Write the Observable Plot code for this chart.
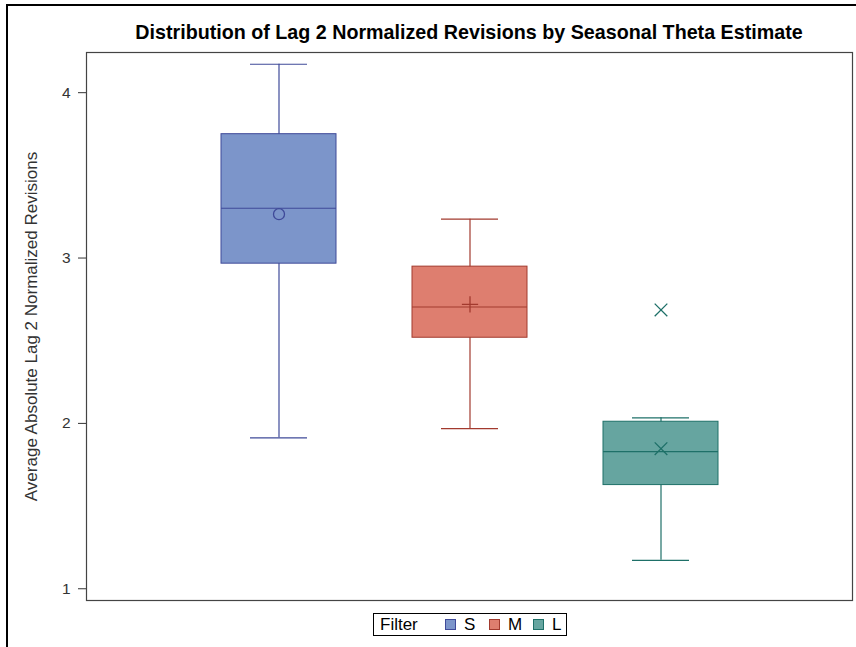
<!DOCTYPE html>
<html><head><meta charset="utf-8">
<script src="https://cdn.jsdelivr.net/npm/d3@7"></script>
<script src="https://cdn.jsdelivr.net/npm/@observablehq/plot@0.6"></script>
<style>
html,body{margin:0;padding:0;background:#fff;overflow:hidden;}
#wrap{position:relative;width:856px;height:647px;overflow:hidden;font-family:"Liberation Sans",Arial,sans-serif;background:#fff;}
#border{position:absolute;left:6px;top:4px;width:900px;height:700px;border:2px solid #000;box-sizing:border-box;}
#chart{position:absolute;left:0;top:0;}
#title{position:absolute;left:86px;width:766px;top:20px;text-align:center;font-weight:bold;font-size:19.7px;line-height:24px;color:#000;white-space:nowrap;}
#legend{position:absolute;left:373px;top:613px;width:192px;height:21px;border:1px solid #000;box-sizing:content-box;font-size:17px;color:#000;}
#legend span{position:absolute;top:1px;line-height:20px;}
#legend i{position:absolute;top:5px;width:9px;height:9px;border:1px solid;}
</style>
</head><body>
<div id="wrap">
  <div id="border"></div>
  <div id="chart"></div>
  <div id="title"></div>
  <div id="legend"></div>
</div>
<script>
const titleText = "Distribution of Lag 2 Normalized Revisions by Seasonal Theta Estimate";
const yLabel = "Average Absolute Lag 2 Normalized Revisions";
const legendTitle = "Filter";
const groups = ["S", "M", "L"];
const whiskerLow  = [1.913, 1.968, 1.172];
const q1          = [2.966, 2.518, 1.627];
const median      = [3.301, 2.704, 1.829];
const mean        = [3.265, 2.720, 1.847];
const q3          = [3.749, 2.948, 2.010];
const whiskerHigh = [4.172, 3.235, 2.034];
const outlierGroup = ["L"];
const outlierValue = [2.686];
const yTicks = [1, 2, 3, 4];

const fills = {S: "#7C95CA", M: "#DE7E6F", L: "#66A5A0"};
const lines = {S: "#3F4A99", M: "#A23A2E", L: "#1E7068"};
const symbols = {S: "circle", M: "plus", L: "times"};
const symR = {S: 5.5, M: 5.3, L: 5.8};

const table = groups.map((g, i) => ({g, lo: whiskerLow[i], q1: q1[i], med: median[i], mean: mean[i], q3: q3[i], hi: whiskerHigh[i]}));
const outliers = outlierGroup.map((g, i) => ({g, v: outlierValue[i]}));

document.getElementById("title").textContent = titleText;

const meanMarks = groups.map(g => Plot.dot(table.filter(d => d.g === g), {
  x: "g", y: "mean", symbol: symbols[g], r: symR[g], stroke: lines[g], strokeWidth: 1.3, fill: "none"
}));
const outlierMarks = outlierGroup.map(g => Plot.dot(outliers.filter(d => d.g === g), {
  x: "g", y: "v", symbol: symbols[g], r: symR[g], stroke: lines[g], strokeWidth: 1.3, fill: "none"
}));

const chart = Plot.plot({
  width: 856, height: 647,
  marginLeft: 86, marginTop: 52, marginRight: 4, marginBottom: 47,
  style: {fontFamily: '"Liberation Sans", Arial, sans-serif', background: "transparent"},
  x: {domain: groups, paddingInner: 0.4, paddingOuter: 0.7, axis: null},
  y: {domain: [0.929, 4.243]},
  color: {type: "identity"},
  marks: [
    Plot.ruleX(table, {x: "g", y1: "lo", y2: "hi", stroke: d => lines[d.g], strokeWidth: 1.2}),
    Plot.tickY(table, {x: "g", y: "lo", stroke: d => lines[d.g], strokeWidth: 1.2, insetLeft: 29, insetRight: 29}),
    Plot.tickY(table, {x: "g", y: "hi", stroke: d => lines[d.g], strokeWidth: 1.2, insetLeft: 29, insetRight: 29}),
    Plot.barY(table, {x: "g", y1: "q1", y2: "q3", fill: d => fills[d.g], stroke: d => lines[d.g], strokeWidth: 1}),
    Plot.tickY(table, {x: "g", y: "med", stroke: d => lines[d.g], strokeWidth: 1.2}),
    ...meanMarks,
    ...outlierMarks,
    Plot.frame({stroke: "#444", strokeWidth: 1.2}),
    Plot.axisY({ticks: yTicks, tickFormat: d => String(d), tickSize: 8, tickPadding: 8, fontSize: 15.5, color: "#333", label: null}),
    Plot.axisY({ticks: [], label: yLabel, labelAnchor: "center", labelArrow: "none", labelOffset: 62, fontSize: 17, color: "#333"})
  ]
});
document.getElementById("chart").appendChild(chart);

// legend
const lg = document.getElementById("legend");
const t = document.createElement("span");
t.textContent = legendTitle; t.style.left = "6px"; lg.appendChild(t);
const offsets = [71, 115, 159];
groups.forEach((g, i) => {
  const sw = document.createElement("i");
  sw.style.left = offsets[i] + "px"; sw.style.background = fills[g]; sw.style.borderColor = lines[g];
  lg.appendChild(sw);
  const s = document.createElement("span");
  s.textContent = g; s.style.left = (offsets[i] + 19) + "px";
  lg.appendChild(s);
});
</script>
</body></html>
